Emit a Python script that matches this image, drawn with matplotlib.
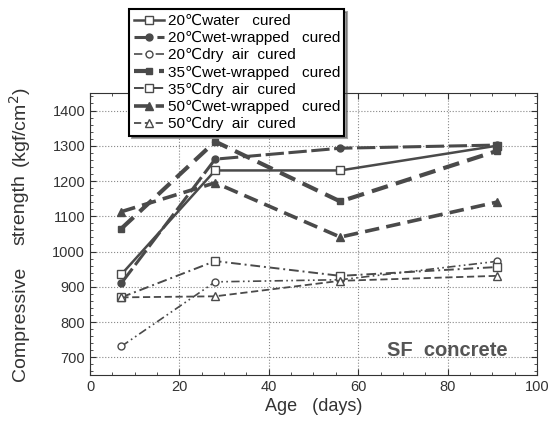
import numpy as np
import matplotlib.pyplot as plt
from matplotlib.ticker import MultipleLocator

plt.rcParams['font.family'] = ['Liberation Sans', 'DejaVu Sans']

age = [7, 28, 56, 91]

labels = [
    "20\u2103water   cured",
    "20\u2103wet-wrapped   cured",
    "20\u2103dry  air  cured",
    "35\u2103wet-wrapped   cured",
    "35\u2103dry  air  cured",
    "50\u2103wet-wrapped   cured",
    "50\u2103dry  air  cured",
]

water_20 = [935, 1230, 1230, 1300]
wet_20 = [910, 1262, 1293, 1302]
dry_20 = [731, 914, 920, 972]
wet_35 = [1065, 1312, 1142, 1285]
dry_35 = [870, 973, 931, 956]
wet_50 = [1113, 1195, 1041, 1140]
dry_50 = [870, 873, 917, 931]

series = [water_20, wet_20, dry_20, wet_35, dry_35, wet_50, dry_50]

gray = "#4a4a4a"
styles = [
    dict(ls="-", lw=1.8, marker="s", ms=6, mfc="white"),
    dict(ls=(0, (6, 1.5)), lw=2.2, marker="o", ms=5, mfc=gray),
    dict(ls=(0, (5, 2, 1, 2, 1, 2)), lw=1.2, marker="o", ms=5, mfc="white"),
    dict(ls=(0, (4, 2)), lw=3.0, marker="s", ms=5, mfc=gray),
    dict(ls=(0, (5, 2, 1, 2)), lw=1.4, marker="s", ms=6, mfc="white"),
    dict(ls=(0, (4, 2)), lw=2.6, marker="^", ms=6, mfc=gray),
    dict(ls=(0, (4, 2)), lw=1.3, marker="^", ms=6, mfc="white"),
]

fig = plt.figure(figsize=(5.49, 4.28), dpi=100)
ax = fig.add_axes([0.164, 0.124, 0.814, 0.659])

for vals, lab, st in zip(series, labels, styles):
    ax.plot(age, vals, color=gray, mec=gray, label=lab, **st)

ax.set_xlim(0, 100)
ax.set_ylim(650, 1450)
ax.xaxis.set_major_locator(MultipleLocator(20))
ax.xaxis.set_minor_locator(MultipleLocator(5))
ax.set_yticks([700, 800, 900, 1000, 1100, 1200, 1300, 1400])
ax.yaxis.set_minor_locator(MultipleLocator(20))
ax.tick_params(direction="in", which="both", colors="#333333", labelsize=10.5,
               top=True, right=True)
ax.tick_params(which="major", length=4)
ax.tick_params(which="minor", length=2)
ax.grid(True, which="major", ls=":", color="#888888", lw=0.8)
for s in ax.spines.values():
    s.set_color("#333333")

ax.set_xlabel("Age   (days)", fontsize=13, color="#333333", labelpad=3)

# y label words spread out like the original
fig.text(0.037, 1 - 324 / 428, "Compressive", rotation=90, ha="center",
         va="center", fontsize=14, color="#333333")
fig.text(0.037, 1 - 210 / 428, "strength", rotation=90, ha="center",
         va="center", fontsize=14, color="#333333")
fig.text(0.037, 1 - 128 / 428, "(kgf/cm$^2$)", rotation=90, ha="center",
         va="center", fontsize=14, color="#333333")

ax.text(0.935, 0.085, "SF  concrete", transform=ax.transAxes, ha="right",
        va="center", fontsize=14.5, fontweight="bold", color="#555555")

leg = fig.legend(loc="upper left", bbox_to_anchor=(0.23, 0.985),
                 fontsize=11, handlelength=2.0, handletextpad=0.2,
                 labelspacing=0.2, borderpad=0.3, borderaxespad=0.2,
                 fancybox=False, shadow=True, framealpha=1, edgecolor="black")
leg.get_frame().set_linewidth(1.5)
leg.set_zorder(10)

fig.savefig("out.png", dpi=100)
